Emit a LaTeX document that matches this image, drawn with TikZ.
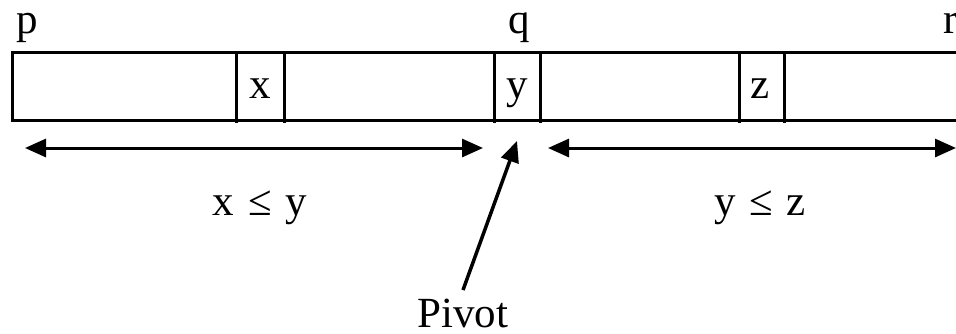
\documentclass[tikz,border=0pt]{standalone}
\usepackage{fontspec}
\setmainfont{Liberation Serif}
\usetikzlibrary{arrows.meta}
\begin{document}
\begin{tikzpicture}[x=1pt,y=-1pt,
  line width=3pt,
  lbl/.style={font=\fontsize{43}{47}\selectfont, inner sep=0pt, anchor=base},
  cell/.style={minimum height=68pt, inner sep=0pt, outer sep=0pt, anchor=north west},
  divider/.style={line width=3pt},
  arr/.style={-{Triangle[length=21pt,width=18pt]}, line width=3.5pt},
  darr/.style={{Triangle[length=21pt,width=18pt]}-{Triangle[length=21pt,width=18pt]}, line width=3pt}]
\useasboundingbox (0,0) rectangle (956,333);
\clip (0,0) rectangle (956,333);
% array outline (runs off the right edge)
\draw (975,52) -- (12,52) -- (12,120) -- (975,120);
% highlighted cells
\node[cell, minimum width=48pt] (xc) at (236,52) {};
\node[cell, minimum width=46pt] (yc) at (494,52) {};
\node[cell, minimum width=45pt] (zc) at (739,52) {};
\foreach \c in {xc,yc,zc}{
  \draw[divider] (\c.north west) -- ([yshift=-3pt]\c.south west);
  \draw[divider] (\c.north east) -- ([yshift=-3pt]\c.south east);
}
% cell contents
\node[lbl] (xt) at (260,98) {x};
\node[lbl] (yt) at (517,98) {y};
\node[lbl] (zt) at (760,98) {z};
% index labels
\node[lbl] (p) at (27,33) {p};
\node[lbl] (q) at (519,33) {q};
\node[lbl] (r) at (951,33) {r};
% range arrows
\coordinate (la) at (25,148);
\coordinate (lb) at (483,148);
\coordinate (ra) at (548,148);
\coordinate (rb) at (956,148);
\draw[darr] (la) -- (lb);
\draw[darr] (ra) -- (rb);
% relation labels
\node[lbl] (rel1) at (260,215) {x\kern3pt{} ≤ \kern3pt{}y};
\node[lbl] (rel2) at (760,215) {y\kern3pt{} ≤ \kern3pt{}z};
% pivot
\node[lbl] (pivot) at (463,327) {Pivot};
\coordinate (pt) at (517,141);
\draw[arr] ([yshift=7pt]pivot.north) -- (pt);
\end{tikzpicture}
\end{document}
